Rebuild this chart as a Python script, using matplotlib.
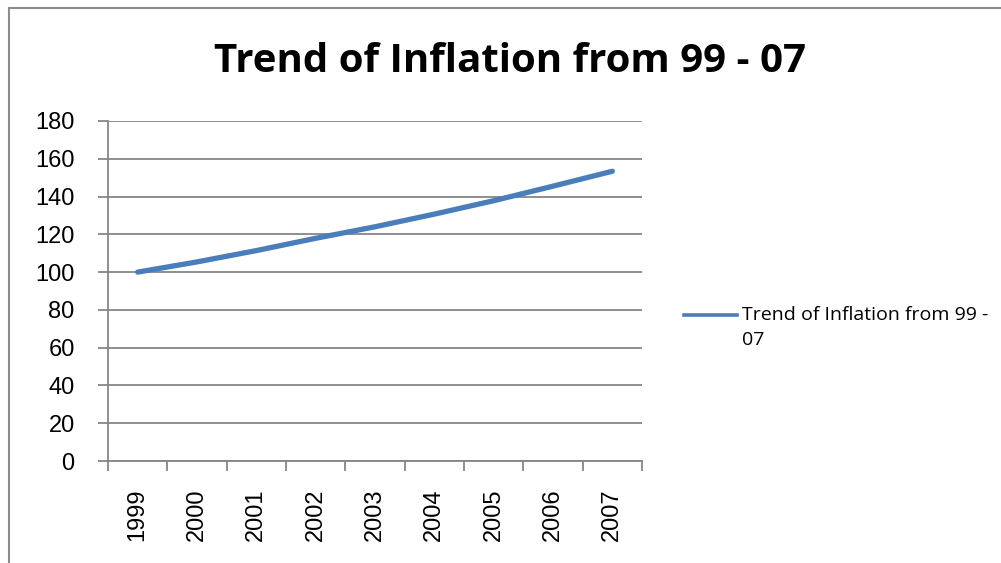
import matplotlib
matplotlib.use("Agg")
import matplotlib.pyplot as plt
from matplotlib.lines import Line2D

years = ["1999", "2000", "2001", "2002", "2003", "2004", "2005", "2006", "2007"]
values = [100, 105.4, 111.4, 117.9, 124.0, 130.7, 137.8, 145.5, 153.4]
yticks = [0, 20, 40, 60, 80, 100, 120, 140, 160, 180]
title = "Trend of Inflation from 99 - 07"
series_name = "Trend of Inflation from 99 -\n07"

W, H = 1001, 563
fig = plt.figure(figsize=(W / 100, H / 100), dpi=100)
fig.patch.set_facecolor("white")

# outer chart border
fig.add_artist(Line2D([9 / W, 9 / W], [0, 1 - 8 / H], transform=fig.transFigure,
                      color="#8c8c8c", lw=1.5))
fig.add_artist(Line2D([9 / W, 1], [1 - 8 / H, 1 - 8 / H], transform=fig.transFigure,
                      color="#8c8c8c", lw=1.5))

ax = fig.add_axes([108 / W, 1 - 461 / H, (642 - 108) / W, (461 - 121) / H])
x = list(range(len(years)))
line, = ax.plot(x, values, color="#4A7EBB", lw=3.8, solid_capstyle="round",
                label=series_name)

ax.set_xlim(-0.5, len(years) - 0.5)
ax.set_ylim(0, 180)
ax.set_yticks(yticks)
ax.set_yticklabels([str(v) for v in yticks], fontsize=17, family="Liberation Sans")
ax.yaxis.grid(True, color="#868686", lw=1.3)
ax.set_axisbelow(True)

ax.set_xticks(x)
ax.set_xticklabels(years, rotation=90, fontsize=17, family="Liberation Sans", va="top")
ax.set_xticks([i - 0.5 for i in range(len(years) + 1)], minor=True)
ax.tick_params(axis="x", which="major", length=0, pad=20)
ax.tick_params(axis="x", which="minor", length=7, color="#868686", width=1.3)
ax.tick_params(axis="y", length=7, color="#868686", width=1.3, pad=17)

for s in ["top", "right"]:
    ax.spines[s].set_visible(False)
for s in ["left", "bottom"]:
    ax.spines[s].set_color("#868686")
    ax.spines[s].set_linewidth(1.3)

fig.text(510 / W, 1 - 62 / H, title, ha="center", va="center",
         fontsize=29, fontweight="bold", family="Open Sans")

fig.add_artist(Line2D([684 / W, 737 / W], [1 - 315 / H, 1 - 315 / H],
                      transform=fig.transFigure, color="#4A7EBB", lw=2.6))
fig.text(742 / W, 1 - 315 / H, "Trend of Inflation from 99 -", ha="left", va="center",
         fontsize=14, family="Open Sans")
fig.text(742 / W, 1 - 340 / H, "07", ha="left", va="center",
         fontsize=14, family="Open Sans")

fig.savefig("out.png", dpi=100, facecolor="white")
